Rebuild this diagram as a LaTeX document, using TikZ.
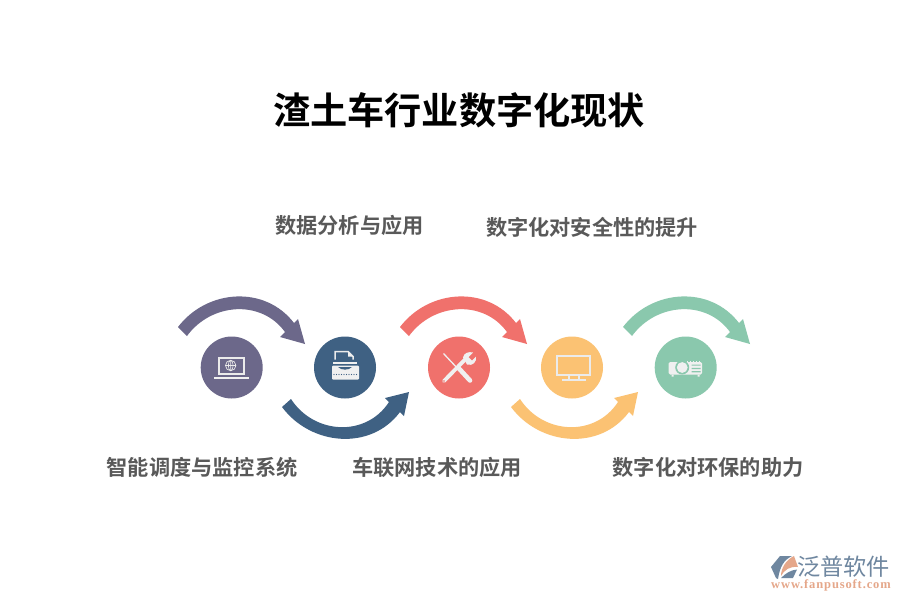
\documentclass[tikz,border=0pt]{standalone}
\usepackage{fontspec}
\setmainfont{Noto Sans CJK SC}[BoldFont={Noto Sans CJK SC Bold}]
\newfontfamily\urlfont{Liberation Serif}
\definecolor{cpurple}{HTML}{6C688A}
\definecolor{cblue}{HTML}{3F6183}
\definecolor{cred}{HTML}{F0716C}
\definecolor{cyellow}{HTML}{FBC273}
\definecolor{cgreen}{HTML}{8AC8AD}
\definecolor{ctext}{HTML}{595959}
\definecolor{clogo}{HTML}{6F87A0}
\definecolor{clogoo}{HTML}{E5A78A}
\tikzset{
  disc/.style={circle,minimum size=62pt,inner sep=0pt,fill=#1},
  lbl/.style={font=\fontsize{21.2}{24}\selectfont\bfseries,text=ctext,inner sep=0pt},
  ico/.style={draw=white!92!black,line width=2pt,fill=none},
}
\newcommand{\archup}[2]{%
  \fill[#2,shift={(#1,0)}] (178,327) .. controls (207,289) and (265,285) .. (294,323)
    -- (298,319) -- (305,344) -- (280,337) -- (285,332)
    .. controls (261,299) and (211,303) .. (187,336) -- cycle;}
\newcommand{\archdown}[2]{%
  \fill[#2,shift={(#1,0)}] (282,407) .. controls (311,446) and (371,451) .. (400,412)
    -- (404,416) -- (409,392) -- (385,398) -- (389,402)
    .. controls (366,437.5) and (314,434.5) .. (291,399) -- cycle;}
\begin{document}
\begin{tikzpicture}[x=1pt,y=-1pt]
\useasboundingbox (0,0) rectangle (900,600);
\fill[white] (0,0) rectangle (900,600);
\node[font=\fontsize{37.2}{40}\selectfont\bfseries,text=black,inner sep=0pt] (title) at (459,110.5) {渣土车行业数字化现状};
\node[lbl] (l2) at (349.5,225) {数据分析与应用};
\node[lbl] (l4) at (592,227) {数字化对安全性的提升};
\node[lbl] (l1) at (202,467) {智能调度与监控系统};
\node[lbl] (l3) at (437,467) {车联网技术的应用};
\node[lbl] (l5) at (708,467) {数字化对环保的助力};
\archup{0}{cpurple}
\archdown{0}{cblue}
\archup{222}{cred}
\archdown{229}{cyellow}
\archup{445}{cgreen}
\node[disc=cpurple] (n1) at (231.7,367.5) {};
\node[disc=cblue] (n2) at (345,367.5) {};
\node[disc=cred] (n3) at (459,367.5) {};
\node[disc=cyellow] (n4) at (572,367.5) {};
\node[disc=cgreen] (n5) at (685.7,367.5) {};
% laptop
\begin{scope}[shift={(n1)}]
  \draw[ico] (-13,-10) rectangle (12.5,6.5);
  \fill[white!94!black] (-18,9.3) rectangle (17,11.2);
  \draw[white!92!black,line width=.7pt] (-1,-2) circle (5.2) (-6.2,-2) -- (4.2,-2) (-1,-7.2) -- (-1,3.2);
  \draw[white!92!black,line width=.6pt] (-1,-2) ellipse (2.4 and 5.2);
\end{scope}
% typewriter
\begin{scope}[shift={(n2)}]
  \draw[ico,line width=1.5pt] (-10,-8) -- (-10,-16) -- (3,-16) -- (8,-11) -- (8,-8);
  \fill[white!94!black] (3,-16) -- (3,-11) -- (8,-11) -- cycle;
  \fill[white!94!black] (-12,-6) rectangle (12,-3.5);
  \fill[white!94!black,rounded corners=1pt] (-13,-2) rectangle (14,12);
  \fill[cblue] (-7,-0.5) -- (7,-0.5) .. controls (4,3) and (-4,3) .. (-7,-0.5);
  \foreach \k in {-11,-8.5,...,12}{\fill[cblue] (\k,7) circle (.7);}
\end{scope}
% tools
\begin{scope}[shift={(n3)}]
  \draw[white!94!black,line width=1.3pt] (-15.5,-14) -- (0,2.5);
  \draw[white!94!black,line width=4.6pt,line cap=round] (0,1) -- (11,13);
  \draw[white!94!black,line width=3.8pt,line cap=round] (-15,13.5) -- (7,-9);
  \fill[white!94!black] (4,-10) .. controls (5,-15) and (10,-16) .. (14,-15) -- (9.5,-10.5) -- (13,-7) -- (17,-11) .. controls (18,-6) and (14,-1) .. (8,-3) -- cycle;
  \fill[cred] (-15,13.5) circle (.9);
\end{scope}
% monitor
\begin{scope}[shift={(n4)}]
  \draw[ico] (-15.5,-11.5) rectangle (18,7);
  \draw[ico,line width=1.6pt] (-10,12.5) -- (14,12.5) (-3,7) -- (-3,12.5) (7,7) -- (7,12.5);
\end{scope}
% projector
\begin{scope}[shift={(n5)}]
  \fill[white!94!black,rounded corners=1.5pt] (-17,-5.5) rectangle (16.5,7);
  \foreach \k in {-2,1,...,14}{\fill[white!94!black] (\k,-7) rectangle (\k+1.3,-5);}
  \fill[white!94!black] (-14,7) rectangle (-12,9) (12,7) rectangle (14,9);
  \fill[cgreen] (-3.5,0) circle (7);
  \fill[white!94!black] (-3.5,0) circle (5.4);
  \fill[cgreen] (6,-3) rectangle (15,-1.8) (6,0.3) rectangle (15,1.5) (6,3.6) rectangle (15,4.8);
\end{scope}
% logo
\fill[clogo] (780,556) -- (792,556) .. controls (784,560) and (780,566) .. (778,579) -- (776,578) -- (771,567) -- cycle;
\fill[clogoo] (794,556) -- (798,567) .. controls (790,566) and (784,570) .. (781,576) .. controls (781,568) and (786,560) .. (794,556) -- cycle;
\fill[clogo] (797,569.5) -- (793,578) -- (781,578) .. controls (786,573) and (791,570) .. (797,569.5) -- cycle;
\node[font=\fontsize{23.2}{24}\selectfont,text=clogo,inner sep=0pt,anchor=west] (brand) at (797,566.5) {泛普软件};
\node[font=\fontsize{12.5}{13}\urlfont\bfseries,text=clogoo,inner sep=0pt,anchor=west] (url) at (771,585) {\addfontfeature{LetterSpace=7}www.fanpusoft.com};
\end{tikzpicture}
\end{document}
